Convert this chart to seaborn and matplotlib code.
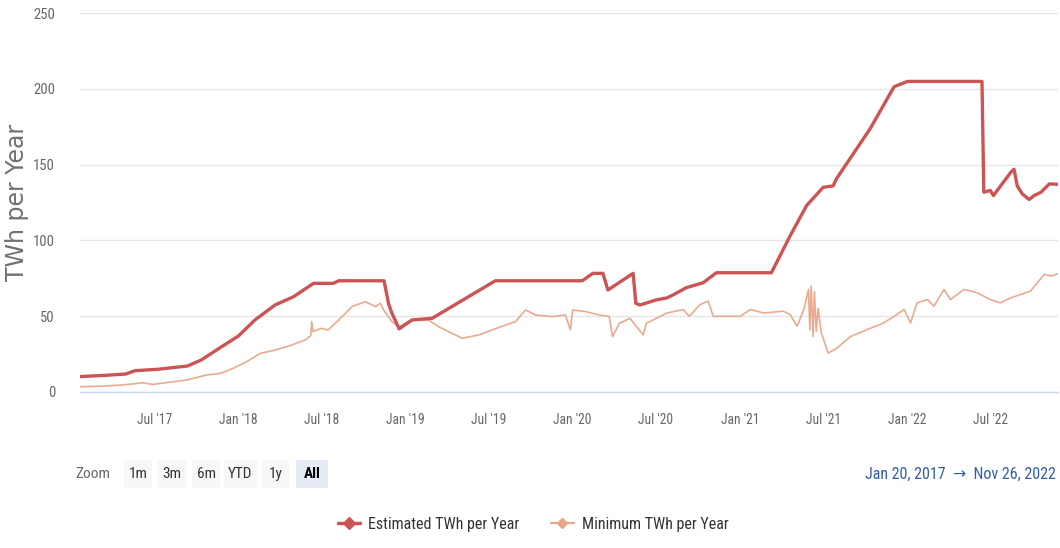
import matplotlib
matplotlib.use("Agg")
import matplotlib.pyplot as plt
import matplotlib.dates as mdates
from matplotlib import font_manager as fm
from matplotlib.patches import FancyBboxPatch
from matplotlib.lines import Line2D
import seaborn as sns
import pandas as pd

# ---------------- data ----------------
est_dates = ["2017-01-20", "2017-03-15", "2017-04-30", "2017-05-20", "2017-07-08", "2017-09-12",
             "2017-10-12", "2017-11-25", "2018-01-01", "2018-02-06", "2018-03-22", "2018-05-01",
             "2018-06-14", "2018-07-27", "2018-08-08", "2018-11-15", "2018-11-25", "2018-12-02",
             "2018-12-18", "2019-01-15", "2019-02-28", "2019-07-16", "2020-01-22", "2020-02-14",
             "2020-03-07", "2020-03-18", "2020-05-12", "2020-05-18", "2020-05-27", "2020-07-01",
             "2020-07-25", "2020-08-07", "2020-09-05", "2020-10-12", "2020-11-10", "2021-03-10",
             "2021-04-20", "2021-05-26", "2021-07-01", "2021-07-23", "2021-07-30", "2021-10-12",
             "2021-12-03", "2022-01-01", "2022-06-13", "2022-06-17", "2022-07-01", "2022-07-08",
             "2022-08-15", "2022-08-22", "2022-08-29", "2022-09-09", "2022-09-24", "2022-10-05",
             "2022-10-20", "2022-11-07", "2022-11-26"]
est_values = [10.0, 10.8, 11.7, 13.9, 14.8, 17.0,
              21.0, 29.7, 36.8, 47.4, 57.3, 62.7,
              71.6, 71.6, 73.3, 73.3, 58.0, 52.0,
              41.5, 47.4, 48.5, 73.3, 73.3, 78.2,
              78.2, 67.2, 78.2, 58.4, 57.3, 60.6,
              62.0, 63.9, 68.7, 72.0, 78.6, 78.6,
              103.0, 123.0, 135.0, 136.0, 140.6, 173.9,
              201.5, 205.0, 205.0, 131.8, 133.0, 129.6,
              145.0, 147.0, 136.0, 130.7, 127.0, 129.6,
              131.8, 137.3, 137.0]

min_dates = ["2017-01-20", "2017-03-01", "2017-04-22", "2017-06-06", "2017-06-28", "2017-08-12",
             "2017-09-10", "2017-10-23", "2017-11-22", "2017-12-20", "2018-01-19", "2018-02-17",
             "2018-03-22", "2018-04-27", "2018-05-26", "2018-06-08", "2018-06-10", "2018-06-13",
             "2018-07-01", "2018-07-16", "2018-08-08", "2018-09-06", "2018-10-05", "2018-10-27",
             "2018-11-07", "2018-11-14", "2018-12-02", "2018-12-18", "2019-01-15", "2019-02-20",
             "2019-03-14", "2019-04-12", "2019-05-05", "2019-06-10", "2019-07-09", "2019-08-07",
             "2019-08-29", "2019-09-20", "2019-10-12", "2019-11-17", "2019-12-16", "2019-12-27",
             "2020-01-01", "2020-01-30", "2020-02-28", "2020-03-21", "2020-03-28", "2020-04-12",
             "2020-05-05", "2020-06-03", "2020-06-10", "2020-07-09", "2020-07-25", "2020-08-29",
             "2020-09-12", "2020-10-05", "2020-10-23", "2020-11-03", "2021-01-01", "2021-01-23",
             "2021-02-21", "2021-04-05", "2021-04-20", "2021-05-05", "2021-05-20", "2021-05-30",
             "2021-06-02", "2021-06-05", "2021-06-09", "2021-06-12", "2021-06-16", "2021-06-20",
             "2021-06-27", "2021-07-12", "2021-07-31", "2021-08-30", "2021-10-05", "2021-11-10",
             "2021-12-03", "2021-12-25", "2022-01-08", "2022-01-22", "2022-02-14", "2022-02-28",
             "2022-03-22", "2022-04-05", "2022-05-05", "2022-06-03", "2022-07-01", "2022-07-23",
             "2022-08-15", "2022-09-05", "2022-09-27", "2022-10-12", "2022-10-27", "2022-11-12",
             "2022-11-26"]
min_values = [3.3, 3.6, 4.4, 5.9, 4.8, 6.6,
              7.7, 11.0, 12.1, 15.4, 19.8, 25.3,
              27.5, 30.8, 34.1, 37.0, 46.3, 39.7,
              41.9, 40.8, 47.4, 56.2, 59.5, 56.2,
              58.4, 54.0, 46.3, 43.0, 47.4, 47.4,
              43.0, 38.6, 35.3, 37.5, 40.8, 44.0,
              46.3, 54.0, 50.7, 49.6, 50.7, 40.8,
              54.0, 52.9, 50.7, 49.6, 36.4, 45.2,
              48.5, 37.5, 45.2, 49.6, 52.0, 54.3,
              49.8, 57.6, 59.8, 49.8, 49.8, 54.3,
              52.0, 53.2, 51.0, 43.2, 54.3, 67.6,
              41.0, 69.8, 36.5, 66.0, 40.0, 55.0,
              38.8, 25.5, 28.8, 36.5, 41.0, 45.4,
              49.8, 54.3, 45.4, 58.7, 60.9, 56.5,
              67.6, 60.9, 67.6, 65.3, 60.9, 58.7,
              62.0, 64.2, 66.5, 72.0, 77.5, 76.4,
              78.0]

series_names = ["Estimated TWh per Year", "Minimum TWh per Year"]
y_ticks = [0, 50, 100, 150, 200, 250]
zoom_buttons = ["1m", "3m", "6m", "YTD", "1y", "All"]
range_text = "Jan 20, 2017  \u2192  Nov 26, 2022"
y_label = "TWh per Year"

# ---------------- style ----------------
sns.set_style("white")
regular = {}
for f in fm.fontManager.ttflist:
    w = f.weight
    is_regular = (w in (400, "normal", "regular", "book")) and f.style == "normal"
    if is_regular:
        regular.setdefault(f.name, f)
narrow_pref = ["Roboto Condensed", "Fira Sans Condensed", "IBM Plex Sans Condensed",
               "Encode Sans Condensed", "Archivo Narrow", "PT Sans Narrow", "Asap Condensed",
               "Sofia Sans Condensed", "Liberation Sans Narrow", "Pragati Narrow",
               "Saira Condensed", "Barlow Condensed", "Open Sans Condensed"]
narrow = next((n for n in narrow_pref if n in regular), "Liberation Sans")
plt.rcParams["font.family"] = [narrow, "DejaVu Sans"]
plt.rcParams["font.weight"] = "normal"

est_color = "#cd5454"
min_color = "#eaa68a"

df_est = pd.DataFrame({"date": pd.to_datetime(est_dates), "value": est_values})
df_min = pd.DataFrame({"date": pd.to_datetime(min_dates), "value": min_values})

fig = plt.figure(figsize=(10.6, 5.48), dpi=100)
ax = fig.add_axes([0.0755, 0.2852, 0.9226, 0.6905])

sns.lineplot(data=df_min, x="date", y="value", ax=ax, color=min_color, lw=1.2, alpha=0.95)
sns.lineplot(data=df_est, x="date", y="value", ax=ax, color=est_color, lw=2.4)

ax.set_xlim(pd.Timestamp("2017-01-20"), pd.Timestamp("2022-11-26"))
ax.set_ylim(0, 250)
ax.set_yticks(y_ticks)
ax.yaxis.grid(True, color="#e6e6e6", lw=1)
ax.set_axisbelow(True)
for s in ["top", "right", "left"]:
    ax.spines[s].set_visible(False)
ax.spines["bottom"].set_color("#ccd6eb")
ax.spines["bottom"].set_linewidth(1)

ax.xaxis.set_major_locator(mdates.MonthLocator(bymonth=[1, 7]))
ax.xaxis.set_major_formatter(mdates.DateFormatter("%b '%y"))
ax.tick_params(axis="x", colors="#ccd6eb", length=8, width=1, labelcolor="#666666",
               labelsize=9.8, pad=7, direction="out")
ax.tick_params(axis="y", length=0, labelcolor="#666666", labelsize=10.5, pad=18)
ax.set_xlabel("")
ax.set_ylabel(y_label, color="#707070", fontsize=17, family="DejaVu Sans")
ax.yaxis.set_label_coords(-0.052, 0.5)

# ---------------- range selector ----------------
W, H = 1060, 548
def px(x, y):
    return x / W, 1 - y / H

fig.text(*px(75, 474), "Zoom", color="#666666", fontsize=11, va="center", ha="left")
btn_x = [124, 158, 192, 224, 262, 296]
btn_w = [28, 28, 28, 33, 27, 32]
for lbl, bx, bw in zip(zoom_buttons, btn_x, btn_w):
    sel = lbl == "All"
    x0, y0 = px(bx, 488)
    rect = FancyBboxPatch((x0, y0), bw / W, 28 / H, boxstyle="square,pad=0",
                          transform=fig.transFigure, facecolor="#e6ebf5" if sel else "#f7f7f7",
                          edgecolor="none", zorder=0)
    fig.patches.append(rect)
    fig.text(*px(bx + bw / 2, 474), lbl, color="#000000" if sel else "#333333",
             fontsize=11, va="center", ha="center", fontweight="bold" if sel else "normal")

fig.text(*px(1056, 474), range_text, color="#335cad", fontsize=11.5, va="center", ha="right")

# ---------------- legend ----------------
handles = [
    Line2D([], [], color=est_color, lw=2.5, marker="D", markersize=6),
    Line2D([], [], color=min_color, lw=1.5, marker="D", markersize=5),
]
fig.legend(handles, series_names, loc="center", bbox_to_anchor=px(533, 524), ncol=2,
           frameon=False, fontsize=11.5, handlelength=1.4, columnspacing=2.0,
           labelcolor="#333333", handletextpad=0.5)

fig.savefig("out.png", dpi=100)
